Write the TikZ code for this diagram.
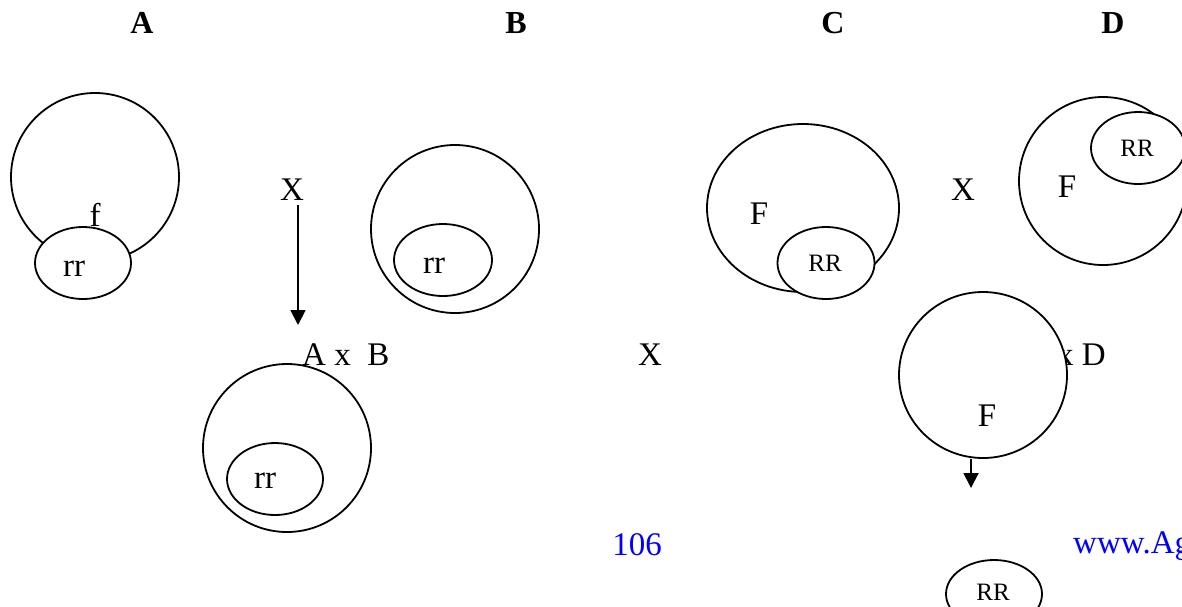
\documentclass[tikz,border=0pt]{standalone}
\usepackage{fontspec}
\setmainfont{Liberation Serif}
\usetikzlibrary{shapes.geometric,arrows.meta}
\definecolor{linkblue}{RGB}{0,0,255}
\begin{document}
\begin{tikzpicture}[x=1pt,y=-1pt,
  shp/.style={draw, line width=1.8pt, ellipse, inner sep=0pt, outer sep=0pt},
  wshp/.style={shp, fill=white},
  lbl/.style={inner sep=0pt, anchor=base, font=\fontsize{33}{36}\selectfont},
  slbl/.style={lbl, font=\fontsize{25}{28}\selectfont},
  hdr/.style={lbl, font=\fontsize{32}{36}\selectfont\bfseries},
  bluetxt/.style={lbl, text=linkblue},
  arr/.style={line width=1.8pt, -{Triangle[width=15pt,length=15pt]}}]
\useasboundingbox (0,0) rectangle (1182,606);
\clip (0,0) rectangle (1182,606);
% headers
\node[hdr] (hA) at (142,33) {A};
\node[hdr] (hB) at (516,33) {B};
\node[hdr] (hC) at (833,33) {C};
\node[hdr] (hD) at (1113,33) {D};
% A
\node[shp, minimum width=168pt, minimum height=168pt] (circA) at (95,177) {};
\node[wshp, minimum width=96pt, minimum height=72pt] (rrA) at (83,263) {};
\node[lbl] (fA) at (95,226) {f};
\node[lbl] (tA) at (74,276) {rr};
% X and arrow
\node[lbl] (X1) at (292,200) {X};
\coordinate (a1) at (298,205);
\coordinate (a2) at (298,325);
\draw[arr] (a1) -- (a2);
% B
\node[shp, minimum width=168pt, minimum height=168pt] (circB) at (455,229) {};
\node[shp, minimum width=98pt, minimum height=72pt] (rrB) at (443,260) {};
\node[lbl] (tB) at (434,273) {rr};
% A x B
\node[shp, minimum width=168pt, minimum height=168pt] (circAB) at (287,448) {};
\node[shp, minimum width=96pt, minimum height=72pt] (rrAB) at (275,479) {};
\node[lbl] (tAB) at (265,488) {rr};
\node[lbl, anchor=base west] (AxB) at (302,365) {A x\ \ B};
\node[lbl] (X2) at (650,365) {X};
% C
\node[shp, minimum width=192pt, minimum height=168pt] (ellC) at (803,208) {};
\node[wshp, minimum width=97pt, minimum height=72pt] (RRC) at (826,263) {};
\node[lbl] (FC) at (759,224) {F};
\node[slbl] (tC) at (825,271) {RR};
% X between C and D
\node[lbl] (X3) at (963,200) {X};
% D
\node[shp, minimum width=168pt, minimum height=168pt] (circD) at (1103,181) {};
\node[wshp, minimum width=94pt, minimum height=72pt] (RRD) at (1138,148) {};
\node[lbl] (FD) at (1067,197) {F};
\node[slbl] (tD) at (1137,156) {RR};
% C x D
\node[lbl, anchor=base east] (xD) at (1106,365) {x D};
\node[wshp, minimum width=168pt, minimum height=166pt] (circF) at (983,375) {};
\node[lbl] (FF) at (987,426) {F};
\coordinate (b1) at (971,459);
\coordinate (b2) at (971,488);
\draw[arr] (b1) -- (b2);
\node[shp, minimum width=96pt, minimum height=68pt] (RRbot) at (994,594) {};
\node[slbl] (tbot) at (993,600) {RR};
% footer
\node[bluetxt] (pg) at (637,555) {106};
\node[bluetxt, anchor=base west] (www) at (1073,553) {www.Ag};
\end{tikzpicture}
\end{document}
